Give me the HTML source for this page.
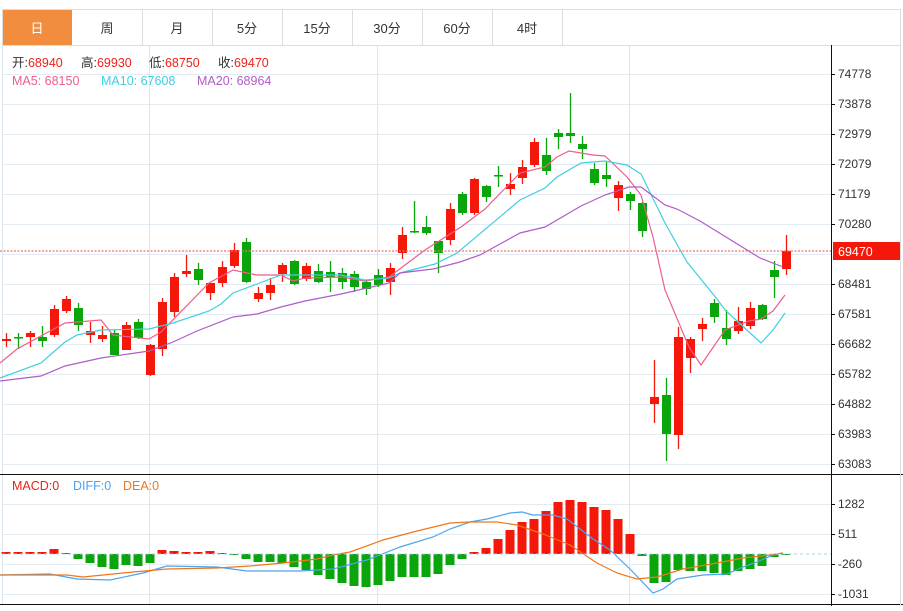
<!DOCTYPE html>
<html><head><meta charset="utf-8"><style>
body{margin:0;background:#fff;font-family:"Liberation Sans","Noto Sans CJK SC",sans-serif;}
svg text{font-family:"Liberation Sans","Noto Sans CJK SC",sans-serif;}
</style></head><body>
<svg id="s" width="903" height="606" xmlns="http://www.w3.org/2000/svg">
<rect width="903" height="606" fill="#fff"/>
<g id="grid"></g>
<rect x="2.5" y="9.5" width="898" height="36" fill="#fff" stroke="#ddd"/>
<rect x="3" y="10" width="69" height="35" fill="#f28c3e"/>
<g stroke="#ddd"><line x1="142.5" y1="10" x2="142.5" y2="45"/><line x1="212.5" y1="10" x2="212.5" y2="45"/><line x1="282.5" y1="10" x2="282.5" y2="45"/><line x1="352.5" y1="10" x2="352.5" y2="45"/><line x1="422.5" y1="10" x2="422.5" y2="45"/><line x1="492.5" y1="10" x2="492.5" y2="45"/><line x1="562.5" y1="10" x2="562.5" y2="45"/></g>
<g font-size="13" text-anchor="middle" fill="#333">
<text x="37" y="33" fill="#fff">日</text><text x="107" y="33">周</text><text x="177" y="33">月</text><text x="247" y="33">5分</text><text x="317" y="33">15分</text><text x="387" y="33">30分</text><text x="457" y="33">60分</text><text x="527" y="33">4时</text></g>
<g font-size="12.5">
<text x="12" y="67" fill="#333">开:<tspan fill="#f0201a">68940</tspan></text>
<text x="81" y="67" fill="#333">高:<tspan fill="#f0201a">69930</tspan></text>
<text x="149" y="67" fill="#333">低:<tspan fill="#f0201a">68750</tspan></text>
<text x="218" y="67" fill="#333">收:<tspan fill="#f0201a">69470</tspan></text>
<text x="12" y="85" fill="#ee5d8d">MA5: 68150</text>
<text x="101" y="85" fill="#3fcfe0">MA10: 67608</text>
<text x="197" y="85" fill="#b05cc8">MA20: 68964</text>
<text x="12" y="490" fill="#f0201a">MACD:0</text>
<text x="73" y="490" fill="#4aa4f0">DIFF:0</text>
<text x="123" y="490" fill="#f0761a">DEA:0</text>
</g>
<g id="c"></g>
<line x1="0" y1="251" x2="831" y2="251" stroke="#f27070" stroke-dasharray="2,1.5" stroke-width="1.3"/>
<line x1="2" y1="554" x2="831" y2="554" stroke="#9fd0e8" stroke-dasharray="3,3"/>
<line x1="0" y1="474.5" x2="903" y2="474.5" stroke="#111"/>
<line x1="0" y1="604.5" x2="903" y2="604.5" stroke="#111"/>
<line x1="831.5" y1="45" x2="831.5" y2="606" stroke="#111"/>
<line x1="900.5" y1="45" x2="900.5" y2="606" stroke="#ddd"/>
<rect x="833" y="242" width="67" height="18" fill="#f5170a"/>
<g font-size="12" fill="#333" id="ax"></g>
<text x="838" y="256" font-size="12.5" fill="#fff">69470</text>
</svg>
<script>
var NS="http://www.w3.org/2000/svg";
function el(p,t,a){var e=document.createElementNS(NS,t);for(var k in a)e.setAttribute(k,a[k]);p.appendChild(e);return e;}
var g=document.getElementById('grid'),c=document.getElementById('c'),ax=document.getElementById('ax');
var ys=[74,104,134,164,194,224,254,284,314,344,374,404,434,464];
ys.forEach(function(y){el(g,'line',{x1:2,y1:y+.5,x2:831,y2:y+.5,stroke:'#e3ecf2'});});
[504,534,564,594].forEach(function(y){el(g,'line',{x1:2,y1:y+.5,x2:831,y2:y+.5,stroke:'#e3ecf2'});});
[2,149,377,629].forEach(function(x){el(g,'line',{x1:x+.5,y1:45,x2:x+.5,y2:604,stroke:'#dde6ee'});});
var lab=[[74,'74778'],[104,'73878'],[134,'72979'],[164,'72079'],[194,'71179'],[224,'70280'],[284,'68481'],[314,'67581'],[344,'66682'],[374,'65782'],[404,'64882'],[434,'63983'],[464,'63083'],[504,'1282'],[534,'511'],[564,'-260'],[594,'-1031']];
lab.forEach(function(l){el(ax,'line',{x1:831,y1:l[0]+.5,x2:835,y2:l[0]+.5,stroke:'#111'});var t=el(ax,'text',{x:838,y:l[0]+4});t.textContent=l[1];});
var K=[[339,341,333,347,1],[337,338,333,349,0],[333,337,331,347,1],[337,341,326,347,0],[309,335,305,337,1],[299,311,296,313,1],[308,325,303,331,0],[331,335,322,343,1],[335,339,326,342,1],[333,355,330,355,0],[325,350,322,350,1],[322,338,319,339,0],[345,375,344,376,1],[302,349,298,356,1],[277,312,273,317,1],[271,274,255,277,1],[269,280,263,285,0],[283,293,283,300,1],[267,283,261,287,1],[250,266,243,268,1],[242,282,238,283,0],[293,299,287,302,1],[285,293,278,300,1],[265,274,263,282,1],[261,284,260,285,0],[266,279,263,281,1],[271,282,264,283,0],[272,277,261,292,0],[273,282,268,289,0],[274,287,271,292,0],[282,289,281,295,0],[275,285,269,287,0],[268,282,263,295,1],[235,253,227,259,1],[231,232,201,233,0],[227,233,216,235,0],[241,253,241,273,0],[209,240,203,245,1],[194,213,192,215,0],[179,213,178,215,1],[186,197,185,202,0],[175,176,166,187,0],[184,189,173,195,1],[167,178,160,184,1],[142,165,138,167,1],[155,171,138,175,0],[133,137,129,149,0],[133,136,93,143,0],[144,149,136,159,0],[169,183,163,185,0],[175,179,162,187,0],[185,198,181,211,1],[194,201,192,210,0],[203,231,202,237,0],[397,404,360,423,1],[395,434,378,461,0],[337,435,327,449,1],[339,358,337,373,1],[324,329,318,341,1],[303,317,299,323,0],[328,339,310,345,0],[321,331,307,334,1],[308,326,302,329,1],[305,319,304,320,0],[270,277,261,298,0],[251,269,235,275,1]];
var M=[552,552,552,552,549,553,559,563,567,569,565,566,563,550,551,552,552,551,553,555,559,562,562,563,567,570,575,579,583,586,587,585,581,577,577,577,574,565,559,552,548,539,530,522,519,511,502,500,502,507,510,519,534,556,583,582,570,571,571,573,575,571,569,566,557,555];
var R='#f5170a',G='#0aa50a';
M.forEach(function(v,i){var x=6+12*i;var col=v<554?R:G;var y1=Math.min(v,554),h=Math.max(1,Math.abs(v-554));el(c,'rect',{x:x-4.5,y:y1,width:9,height:h,fill:col});});
K.forEach(function(k,i){var x=6+12*i;var col=k[4]?R:G;el(c,'line',{x1:x+.5,y1:k[2],x2:x+.5,y2:k[3],stroke:col,'stroke-width':1.3});el(c,'rect',{x:x-4,y:k[0],width:9,height:Math.max(1.5,k[1]-k[0]),fill:col});});
function pl(pts,col){el(c,'polyline',{points:pts.map(function(p){return p.join(',')}).join(' '),fill:'none',stroke:col,'stroke-width':1.2});}
pl([[0,363],[17,349],[65,323],[101,320],[113,335],[149,339],[161,332],[209,283],[233,270],[257,275],[281,275],[293,281],[305,278],[341,277],[365,281],[389,277],[425,250],[461,227],[485,209],[520,173],[545,167],[557,157],[569,151],[593,155],[605,156],[627,177],[641,195],[653,237],[665,290],[689,347],[701,365],[725,330],[749,321],[761,319],[773,311],[785,295]],'#ee5d8d');
pl([[0,378],[41,363],[65,342],[77,335],[101,330],[149,329],[173,323],[209,311],[221,304],[233,293],[257,284],[281,275],[305,275],[341,275],[365,280],[389,278],[400,273],[435,264],[457,253],[520,200],[545,188],[557,177],[581,163],[605,161],[627,165],[641,174],[665,223],[687,262],[717,299],[725,310],[737,321],[761,343],[773,330],[785,313]],'#3fcfe0');
pl([[0,381],[41,376],[65,366],[101,358],[149,351],[173,342],[197,331],[233,317],[257,314],[281,307],[305,301],[341,294],[389,283],[400,273],[433,269],[460,262],[480,255],[520,233],[545,227],[581,206],[605,195],[629,187],[641,187],[665,205],[677,209],[700,221],[760,258],[783,267]],'#b05cc8');
pl([[0,575],[50,574],[77,579],[110,580],[143,573],[167,566],[217,567],[247,571],[300,571],[333,569],[367,560],[400,547],[433,537],[450,529],[470,522],[487,519],[510,513],[522,512],[533,515],[553,515],[567,519],[593,539],[610,550],[630,569],[653,593],[663,589],[677,579],[703,575],[727,574],[743,567],[757,562],[773,555],[783,553]],'#4aa4f0');
pl([[0,575],[67,575],[83,577],[133,572],[167,569],[217,568],[250,566],[283,563],[317,559],[333,555],[350,552],[383,540],[417,531],[450,523],[470,522],[497,522],[517,525],[543,534],[570,545],[597,563],[617,573],[637,579],[657,577],[683,569],[717,563],[743,558],[770,555],[783,553]],'#f0761a');
</script>
</body></html>
